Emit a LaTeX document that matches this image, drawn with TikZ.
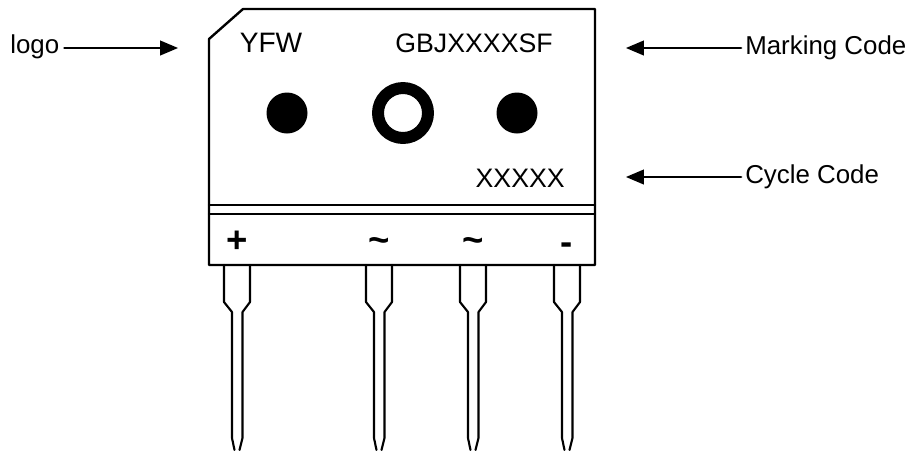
\documentclass[tikz,border=0pt]{standalone}
\usepackage{fontspec}
\setmainfont{Liberation Sans}
\usetikzlibrary{arrows}
\tikzset{
  label text/.style={inner sep=0pt,font=\fontsize{18.4}{20}\selectfont},
  code text/.style={inner sep=0pt,font=\fontsize{19}{21}\selectfont},
  pin text/.style={inner sep=0pt,font=\fontsize{26}{28}\selectfont\bfseries},
  body line/.style={line width=1.7pt},
  lead line/.style={line width=1.5pt},
  call out/.style={->,line width=2pt}
}
\begin{document}
\begin{tikzpicture}[line cap=round,line join=round,>=triangle 45,x=0.025cm,y=-0.025cm]
	\useasboundingbox (0,0) rectangle (910,450);
	\clip (0,0) rectangle (910,450);
	\draw [body line] (209,39)-- (243,9)-- (595,9)-- (595,265)-- (209,265)-- cycle;
	\draw [body line] (209,205)-- (595,205);
	\draw [body line] (209,214)-- (595,214);
	\fill (287,113) circle (20.5);
	\draw [line width=8.5pt] (403,113) circle (25);
	\fill (517,113) circle (20.5);
	\foreach \x in {237,379,473,567} {
		\draw [lead line] (\x-13,265)-- (\x-13,302)-- (\x-5,312)-- (\x-5,438)-- (\x-2.5,450);
		\draw [lead line] (\x+13,265)-- (\x+13,302)-- (\x+5.5,312)-- (\x+5.5,438)-- (\x+2.5,450);
	}
	\node [label text,anchor=base west] (logo) at (10,53.5) {logo};
	\node [label text,anchor=base west] (marking) at (745,54) {Marking Code};
	\node [label text,anchor=base west] (cycle) at (745,183) {Cycle Code};
	\node [inner sep=0pt,font=\fontsize{20}{22}\selectfont] (yfw) at (271,43) {YFW};
	\node [code text,anchor=east] (type) at (553,43) {GBJXXXXSF};
	\node [code text,anchor=east] (code) at (565,178) {XXXXX};
	\node [pin text] (plus) at (237,242) {+};
	\node [pin text] (acone) at (379,245) {\textasciitilde};
	\node [pin text] (actwo) at (473,245) {\textasciitilde};
	\node [pin text] (minus) at (567,249) {-};
	\coordinate (logoend) at (178,48);
	\coordinate (markingend) at (626,48);
	\coordinate (cycleend) at (626,177);
	\draw [call out] (logo.east |- logoend) ++(5,0) -- (logoend);
	\draw [call out] (marking.west |- markingend) ++(-4,0) -- (markingend);
	\draw [call out] (cycle.west |- cycleend) ++(-4,0) -- (cycleend);
\end{tikzpicture}
\end{document}
